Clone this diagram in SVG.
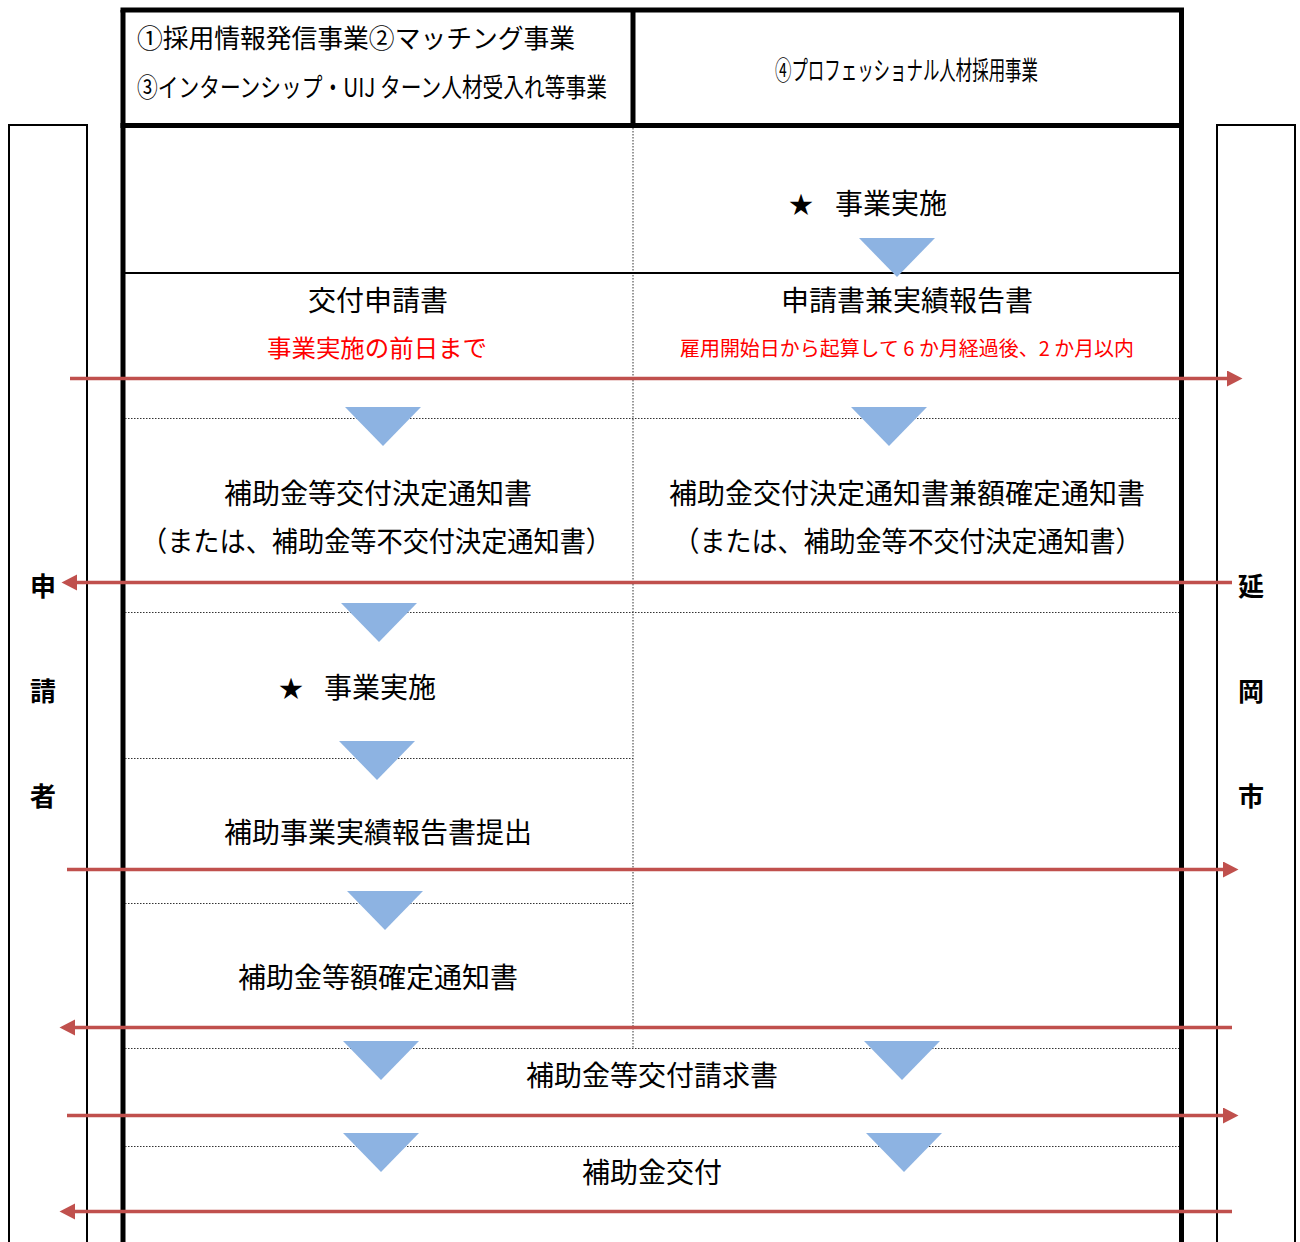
<svg xmlns="http://www.w3.org/2000/svg" width="1300" height="1242" viewBox="0 0 1300 1242">
<style>
.t{font-family:"Noto Sans CJK JP","Noto Sans",sans-serif;fill:#000;font-size:28px}
.h{font-size:26px}
.c{text-anchor:middle}
.red{fill:#FF0000}
.side{font-family:"Noto Sans CJK JP",sans-serif;font-weight:bold;font-size:26px;text-anchor:middle;fill:#000}
.thick{stroke:#000;stroke-width:5;fill:none}
.thin{stroke:#000;stroke-width:2;fill:none}
.dot{stroke:#333;stroke-width:1;stroke-dasharray:1.5 1.5;fill:none}
.tri{fill:#8DB3E2}
.arr{stroke:#C0504D;stroke-width:3.5;fill:none}
</style>
<defs>
<marker id="ah" markerUnits="userSpaceOnUse" markerWidth="16" markerHeight="17" refX="0" refY="8" orient="auto">
<path d="M0,0 L15.5,8 L0,16 z" fill="#C0504D"/>
</marker>
</defs>
<rect width="1300" height="1242" fill="#fff"/>

<g id="side-left">
<rect x="9" y="125" width="78" height="1130" class="thin"/>
<text class="side" x="43" y="596">申</text>
<text class="side" x="43" y="701">請</text>
<text class="side" x="43" y="806">者</text>
</g>
<g id="side-right">
<rect x="1217" y="125" width="78" height="1130" class="thin"/>
<text class="side" x="1251" y="596">延</text>
<text class="side" x="1251" y="701">岡</text>
<text class="side" x="1251" y="806">市</text>
</g>

<g id="frame">
<line x1="123" y1="10" x2="123" y2="1250" class="thick"/>
<line x1="1181.5" y1="10" x2="1181.5" y2="1250" class="thick"/>
<line x1="120.5" y1="10" x2="1184" y2="10" class="thick"/>
<line x1="120.5" y1="125.5" x2="1184" y2="125.5" class="thick"/>
<line x1="633" y1="10" x2="633" y2="125" class="thick"/>
<line x1="633" y1="128" x2="633" y2="1048" class="dot"/>
<line x1="125" y1="273" x2="1179" y2="273" class="thin"/>
<line x1="125" y1="418.5" x2="1179" y2="418.5" class="dot"/>
<line x1="125" y1="612.5" x2="1179" y2="612.5" class="dot"/>
<line x1="125" y1="758.5" x2="633" y2="758.5" class="dot"/>
<line x1="125" y1="903.5" x2="633" y2="903.5" class="dot"/>
<line x1="125" y1="1048.5" x2="1179" y2="1048.5" class="dot"/>
<line x1="125" y1="1146.5" x2="1179" y2="1146.5" class="dot"/>
</g>

<g id="header-left">
<text class="t h" x="137" y="48" textLength="438" lengthAdjust="spacingAndGlyphs">①採用情報発信事業②マッチング事業</text>
<text class="t h" x="137" y="97" textLength="470" lengthAdjust="spacingAndGlyphs">③インターンシップ・UIJ ターン人材受入れ等事業</text>
</g>
<g id="header-right">
<text class="t h" x="775" y="80" textLength="263" lengthAdjust="spacingAndGlyphs">④プロフェッショナル人材採用事業</text>
</g>

<g id="triangles">
<polygon class="tri" points="859,238 935,238 897,277"/>
<polygon class="tri" points="345,407 421,407 383,446"/>
<polygon class="tri" points="851,407 927,407 889,446"/>
<polygon class="tri" points="341,603 417,603 379,642"/>
<polygon class="tri" points="339,741 415,741 377,780"/>
<polygon class="tri" points="347,891 423,891 385,930"/>
<polygon class="tri" points="343,1041 419,1041 381,1080"/>
<polygon class="tri" points="864,1041 940,1041 902,1080"/>
<polygon class="tri" points="343,1133 419,1133 381,1172"/>
<polygon class="tri" points="866,1133 942,1133 904,1172"/>
</g>

<g id="node-jigyo-right">
<text class="t" x="801" y="213" style="font-size:24px" text-anchor="middle">★</text>
<text class="t" x="835" y="214">事業実施</text>
</g>
<g id="node-kofu-shinsei">
<text class="t c" x="378" y="311">交付申請書</text>
<text class="t c red" x="377" y="357" style="font-size:24px" textLength="220" lengthAdjust="spacingAndGlyphs">事業実施の前日まで</text>
</g>
<g id="node-shinsei-jisseki">
<text class="t c" x="907" y="311">申請書兼実績報告書</text>
<text class="t c red" x="907" y="356" style="font-size:20px" textLength="454" lengthAdjust="spacingAndGlyphs">雇用開始日から起算して 6 か月経過後、2 か月以内</text>
</g>
<g id="node-kettei-left">
<text class="t c" x="378" y="504">補助金等交付決定通知書</text>
<text class="t c" x="376.5" y="552" textLength="471" lengthAdjust="spacingAndGlyphs">（または、補助金等不交付決定通知書）</text>
</g>
<g id="node-kettei-right">
<text class="t c" x="907" y="504">補助金交付決定通知書兼額確定通知書</text>
<text class="t c" x="907.5" y="552" textLength="468" lengthAdjust="spacingAndGlyphs">（または、補助金等不交付決定通知書）</text>
</g>
<g id="node-jigyo-left">
<text class="t" x="291" y="697" style="font-size:24px" text-anchor="middle">★</text>
<text class="t" x="324" y="698">事業実施</text>
</g>
<g id="node-jisseki">
<text class="t c" x="378" y="843">補助事業実績報告書提出</text>
</g>
<g id="node-gaku">
<text class="t c" x="378" y="988">補助金等額確定通知書</text>
</g>
<g id="node-seikyu">
<text class="t c" x="652" y="1086">補助金等交付請求書</text>
</g>
<g id="node-kofu">
<text class="t c" x="652" y="1183">補助金交付</text>
</g>

<g id="connectors">
<line class="arr" x1="70" y1="378.5" x2="1227" y2="378.5" marker-end="url(#ah)"/>
<line class="arr" x1="1232" y1="582.5" x2="77" y2="582.5" marker-end="url(#ah)"/>
<line class="arr" x1="67" y1="869.5" x2="1223" y2="869.5" marker-end="url(#ah)"/>
<line class="arr" x1="1232" y1="1027.5" x2="75" y2="1027.5" marker-end="url(#ah)"/>
<line class="arr" x1="67" y1="1115.5" x2="1223" y2="1115.5" marker-end="url(#ah)"/>
<line class="arr" x1="1232" y1="1211.5" x2="75" y2="1211.5" marker-end="url(#ah)"/>
</g>
</svg>
